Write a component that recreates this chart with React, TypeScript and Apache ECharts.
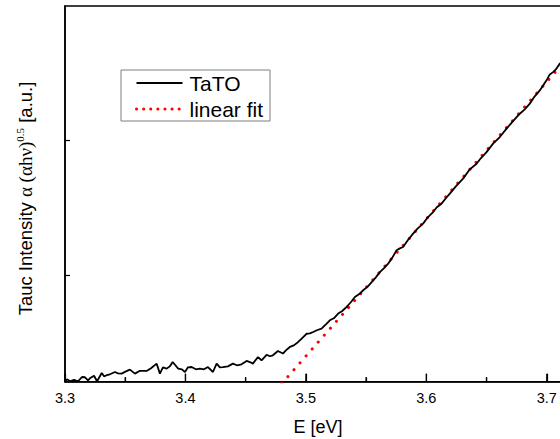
import React, { useEffect, useRef } from "react";
import * as echarts from "echarts";

const energy = [
  3.3, 3.3017, 3.3041, 3.3075, 3.3108, 3.3141, 3.3166, 3.3191, 3.3207, 3.3241,
  3.3266, 3.3305, 3.3324, 3.3346, 3.3373, 3.3415, 3.344, 3.347, 3.3506, 3.3539,
  3.3581, 3.3622, 3.3678, 3.3714, 3.3761, 3.3788, 3.3813, 3.3844, 3.3871, 3.3894,
  3.394, 3.3971, 3.3996, 3.4021, 3.4051, 3.4087, 3.412, 3.4154, 3.4187, 3.4228,
  3.4259, 3.4286, 3.4311, 3.4353, 3.4394, 3.4427, 3.4466, 3.4508, 3.4535, 3.456,
  3.4602, 3.4632, 3.4674, 3.4701, 3.4726, 3.4768, 3.4809, 3.4834, 3.4867, 3.49,
  3.4936, 3.4967, 3.5006, 3.5033, 3.5061, 3.5091, 3.513, 3.5166, 3.5199, 3.5232,
  3.5268, 3.5299, 3.5338, 3.5373, 3.5407, 3.544, 3.5476, 3.5515, 3.5559, 3.5581,
  3.5614, 3.5647, 3.5683, 3.5714, 3.5753, 3.578, 3.5807, 3.5846, 3.589, 3.5929,
  3.5973, 3.6012, 3.6056, 3.6087, 3.6126, 3.6162, 3.6195, 3.6245, 3.6305, 3.6361,
  3.6417, 3.6452, 3.65, 3.6554, 3.661, 3.6666, 3.6718, 3.6776, 3.6817, 3.6859,
  3.69, 3.6942, 3.6998, 3.7025, 3.7052, 3.7075, 3.7108, 3.716, 3.72,
];

const tauc = [
  0.213, 0.228, 0.213, 0.224, 0.213, 0.245, 0.243, 0.22, 0.235, 0.254,
  0.213, 0.275, 0.25, 0.258, 0.265, 0.282, 0.272, 0.27, 0.287, 0.3,
  0.27, 0.291, 0.29, 0.31, 0.344, 0.27, 0.317, 0.307, 0.324, 0.356,
  0.307, 0.302, 0.282, 0.317, 0.319, 0.302, 0.307, 0.302, 0.319, 0.282,
  0.344, 0.317, 0.319, 0.324, 0.344, 0.332, 0.339, 0.364, 0.356, 0.344,
  0.393, 0.369, 0.41, 0.399, 0.406, 0.438, 0.419, 0.443, 0.468, 0.48,
  0.505, 0.532, 0.566, 0.569, 0.579, 0.592, 0.604, 0.636, 0.666, 0.681,
  0.716, 0.733, 0.765, 0.8, 0.839, 0.859, 0.889, 0.918, 0.963, 0.985,
  1.024, 1.052, 1.087, 1.126, 1.186, 1.2, 1.21, 1.26, 1.31, 1.349,
  1.384, 1.431, 1.47, 1.505, 1.532, 1.572, 1.607, 1.661, 1.718, 1.787,
  1.829, 1.869, 1.915, 1.978, 2.027, 2.089, 2.143, 2.2, 2.232, 2.275,
  2.329, 2.373, 2.448, 2.492, 2.509, 2.529, 2.572, 2.61, 2.65,
];

const fitEnergy = [3.48, 3.72];
const fitTauc = [0.196, 2.641];

const xTickLabels = [3.3, 3.4, 3.5, 3.6, 3.7];
const xMinorTicks = [3.35, 3.45, 3.55, 3.65];
const yTickValues = [1, 2];

const seriesNames = ["TaTO", "linear fit"];

const SANS = "'Liberation Sans', Arial, sans-serif";
const SERIF = "'Liberation Serif', 'Times New Roman', serif";

const hiddenSymbol = {
  color: "rgba(0,0,0,0)",
  borderColor: "rgba(0,0,0,0)",
  borderWidth: 0,
};

const GRID_H = 375.7;
const X_MIN = 3.3;
const X_MAX = 3.75;
const Y_MIN = 0.21;
const Y_MAX = 3;
const PX_PER_Y = GRID_H / (Y_MAX - Y_MIN);
const MAJOR_LEN = 8 / PX_PER_Y;
const MINOR_LEN = 4.5 / PX_PER_Y;

const tickStyle = { color: "#000", width: 1.2, type: "solid" };

function tickSeries(v: number, len: number) {
  return {
    type: "line",
    data: [
      [v, Y_MIN],
      [v, Y_MIN + len],
    ],
    symbol: "none",
    showSymbol: false,
    silent: true,
    clip: false,
    lineStyle: { color: "#000", width: 1.3, type: "solid" },
    itemStyle: { color: "#000" },
    emphasis: { disabled: true },
    tooltip: { show: false },
    z: 5,
  };
}

export default function App() {
  const ref = useRef<HTMLDivElement>(null);

  useEffect(() => {
    if (!ref.current) return;
    const chart = echarts.init(ref.current, null, { renderer: "svg" });
    const option = {
      animation: false,
      backgroundColor: "#ffffff",
      grid: {
        left: 65,
        top: 6,
        width: 542,
        height: GRID_H,
        show: true,
        borderColor: "#000",
        borderWidth: 1.5,
      },
      xAxis: {
        type: "value",
        position: "bottom",
        min: X_MIN,
        max: X_MAX,
        interval: 0.1,
        axisLine: { show: true, onZero: false, lineStyle: { color: "#000", width: 1.5 } },
        axisTick: { show: true, inside: true, length: 8, lineStyle: tickStyle },
        minorTick: { show: true, splitNumber: 2, length: 4.5, lineStyle: tickStyle },
        splitLine: { show: false },
        minorSplitLine: { show: false },
        axisLabel: {
          show: true,
          margin: 9,
          fontSize: 14.5,
          fontFamily: SANS,
          color: "#000",
          customValues: xTickLabels,
          formatter: (v: number) => v.toFixed(1),
        },
      },
      yAxis: {
        type: "value",
        min: Y_MIN,
        max: Y_MAX,
        axisLine: { show: true, onZero: false, lineStyle: { color: "#000", width: 1.5 } },
        axisTick: {
          show: true,
          inside: true,
          length: 5,
          customValues: yTickValues,
          lineStyle: tickStyle,
        },
        axisLabel: { show: false },
        splitLine: { show: false },
      },
      legend: {
        left: 121,
        top: 70,
        orient: "vertical",
        padding: [2, 7, 1, 14],
        borderColor: "#7f7f7f",
        borderWidth: 1,
        borderRadius: 0,
        backgroundColor: "#fff",
        itemWidth: 46,
        itemHeight: 14,
        itemGap: 4,
        textStyle: { fontSize: 21, fontFamily: SANS, color: "#000", lineHeight: 22, padding: [0, 0, 0, 2] },
        data: [
          {
            name: seriesNames[0],
            itemStyle: hiddenSymbol,
            lineStyle: { color: "#000", width: 2 },
          },
          {
            name: seriesNames[1],
            itemStyle: hiddenSymbol,
            lineStyle: { color: "#ff0000", width: 3, type: [0.1, 7], cap: "round" },
          },
        ],
      },
      graphic: [
        {
          type: "text",
          x: 318,
          y: 426.5,
          style: {
            text: "E [eV]",
            fontSize: 18,
            fontFamily: SANS,
            fill: "#000",
            align: "center",
            verticalAlign: "middle",
          },
        },
        {
          type: "text",
          x: 25,
          y: 198.5,
          rotation: Math.PI / 2,
          style: {
            text: "{a|Tauc Intensity }{b|α (αhν)}{c|0.5}{a| [a.u.]}",
            fill: "#000",
            align: "center",
            verticalAlign: "middle",
            rich: {
              a: { fontSize: 18.5, fontFamily: SANS, fill: "#000", lineHeight: 22 },
              b: { fontSize: 19, fontFamily: SERIF, fill: "#000", lineHeight: 22 },
              c: { fontSize: 11, fontFamily: SERIF, fill: "#000", lineHeight: 12, verticalAlign: "top" },
            },
          },
        },
      ],
      series: [
        {
          name: seriesNames[0],
          type: "line",
          data: energy.map((e, i) => [e, tauc[i]]),
          symbol: "none",
          showSymbol: false,
          lineStyle: { color: "#000", width: 1.8 },
          itemStyle: { color: "#000" },
          clip: true,
          z: 3,
        },
        {
          name: seriesNames[1],
          type: "line",
          data: fitEnergy.map((e, i) => [e, fitTauc[i]]),
          symbol: "none",
          showSymbol: false,
          lineStyle: { color: "#ff0000", width: 3, type: [0.1, 9.1], cap: "round" },
          itemStyle: { color: "#ff0000" },
          clip: true,
          z: 2,
        },
        ...xTickLabels.map((v) => tickSeries(v, MAJOR_LEN)),
        ...xMinorTicks.map((v) => tickSeries(v, MINOR_LEN)),
      ],
    };
    chart.setOption(option as any);
    return () => chart.dispose();
  }, []);

  return (
    <div
      style={{ position: "absolute", left: 0, top: 0, width: 560, height: 439, overflow: "hidden" }}
    >
      <div ref={ref} style={{ width: 620, height: 439 }} />
    </div>
  );
}
